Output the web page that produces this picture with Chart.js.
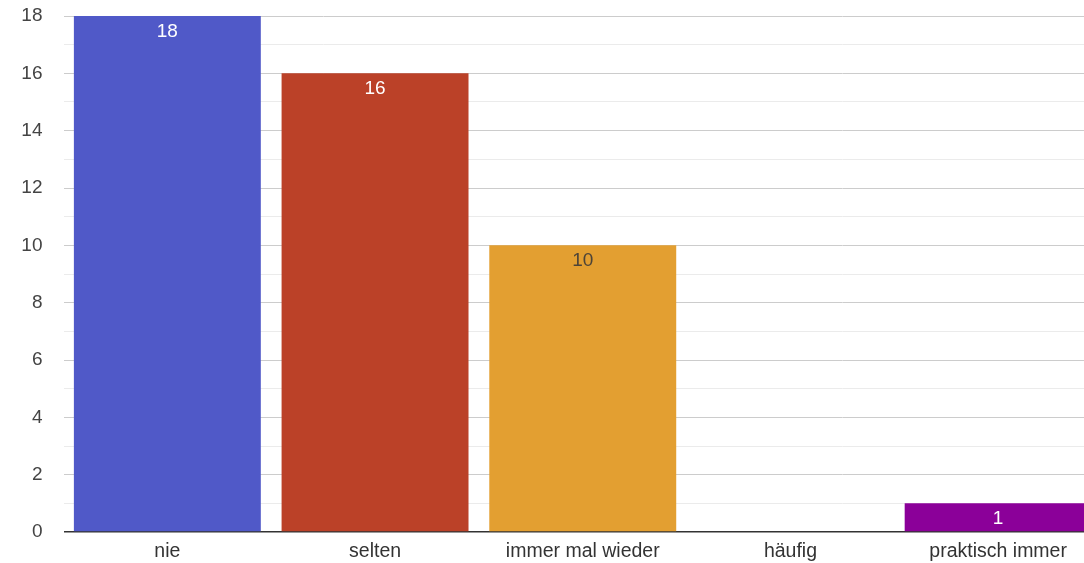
<!DOCTYPE html>
<html>
<head>
<meta charset="utf-8">
<script src="https://cdn.jsdelivr.net/npm/chart.js@4"></script>
<style>
  html, body { margin: 0; padding: 0; background: #fff; overflow: hidden; }
  #wrap { width: 1102px; height: 563px; }
</style>
</head>
<body>
<div id="wrap"><canvas id="barChart" width="1102" height="563"></canvas></div>
<script>
const categories = ["nie", "selten", "immer mal wieder", "häufig", "praktisch immer"];
const counts = [18, 16, 10, 0, 1];
const barColors = ["#5059c8", "#bb4128", "#e39f31", "#5059c8", "#8b0099"];
const labelColors = ["#ffffff", "#ffffff", "#4d4438", "#ffffff", "#ffffff"];

const FONT = "'Liberation Sans', Arial, sans-serif";

// values written inside the top of each bar
const barLabels = {
	id: "barLabels",
	afterDatasetsDraw(chart) {
		const ctx = chart.ctx;
		const meta = chart.getDatasetMeta(0);
		ctx.save();
		ctx.font = "19px " + FONT;
		ctx.textAlign = "center";
		ctx.textBaseline = "middle";
		meta.data.forEach((bar, i) => {
			if (!counts[i]) return;
			ctx.fillStyle = labelColors[i];
			ctx.fillText(String(counts[i]), bar.x, bar.y + 15.5);
		});
		ctx.restore();
	},
};

new Chart(document.getElementById("barChart"), {
	type: "bar",
	data: {
		labels: categories,
		datasets: [
			{
				data: counts,
				backgroundColor: barColors,
				borderWidth: 0,
				barPercentage: 1,
				categoryPercentage: 0.9,
			},
		],
	},
	options: {
		responsive: false,
		animation: false,
		layout: { padding: { top: 16, right: 0, bottom: 0, left: 0 } },
		plugins: {
			legend: { display: false },
			tooltip: { enabled: false },
		},
		scales: {
			x: {
				grid: { display: false, drawTicks: false },
				border: { display: false },
				ticks: {
					color: "#333",
					padding: 8,
					font: { family: FONT, size: 19.5 },
				},
				afterFit: (scale) => {
					scale.height = 31;
					scale.paddingLeft = 0;
					scale.paddingRight = 0;
				},
			},
			y: {
				min: 0,
				max: 18,
				grid: {
					drawTicks: false,
					color: (c) => {
						if (c.tick.value === 0) return "#333333";
						return c.tick.value % 2 === 0 ? "#cccccc" : "#ebebeb";
					},
					lineWidth: (c) => (c.tick.value === 0 ? 1.5 : 1),
				},
				border: { display: false },
				ticks: {
					stepSize: 1,
					autoSkip: false,
					padding: 21,
					color: "#444",
					font: { family: FONT, size: 19 },
					callback: (v) => (v % 2 === 0 ? v : ""),
				},
				afterFit: (scale) => {
					scale.width = 63.5;
					scale.paddingTop = 0;
					scale.paddingBottom = 0;
				},
			},
		},
	},
	plugins: [barLabels],
});
</script>
</body>
</html>
